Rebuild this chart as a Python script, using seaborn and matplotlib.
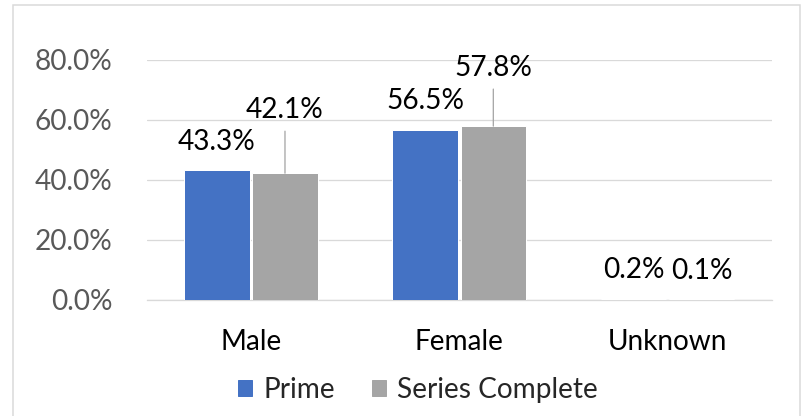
import matplotlib
matplotlib.use("Agg")
import matplotlib.pyplot as plt
from matplotlib.patches import Rectangle
from matplotlib.ticker import PercentFormatter
import seaborn as sns
import pandas as pd

categories = ["Male", "Female", "Unknown"]
series = ["Prime", "Series Complete"]
prime = [43.3, 56.5, 0.2]
series_complete = [42.1, 57.8, 0.1]
colors = ["#4472C4", "#A5A5A5"]

df = pd.DataFrame({
    "gender": categories * 2,
    "group": [series[0]] * 3 + [series[1]] * 3,
    "pct": prime + series_complete,
})

sns.set_theme(style="white")
plt.rcParams["font.family"] = ["Lato", "DejaVu Sans"]
FS = 28
GRID = "#D9D9D9"

# dpi 72 so that points == pixels
fig = plt.figure(figsize=(807 / 72, 416 / 72), dpi=72)
ax = fig.add_axes([146.7 / 807, 1 - 299.5 / 416, 625 / 807, 240 / 416])

sns.barplot(data=df, x="gender", y="pct", hue="group", order=categories,
            hue_order=series, palette=colors, width=0.655, gap=0.04,
            edgecolor="white", linewidth=1, saturation=1, ax=ax, zorder=3)

ax.set_ylim(0, 80)
ax.set_xlim(-0.5, 2.5)
ax.set_yticks([0, 20, 40, 60, 80])
ax.yaxis.set_major_formatter(PercentFormatter(decimals=1))
ax.grid(axis="y", color=GRID, lw=1.3, zorder=0)
ax.set_axisbelow(True)
for s in ["top", "right", "left"]:
    ax.spines[s].set_visible(False)
ax.spines["bottom"].set_color(GRID)
ax.spines["bottom"].set_linewidth(1.3)
ax.set_xlabel("")
ax.set_ylabel("")
ax.tick_params(axis="y", length=0, pad=34, labelsize=FS, labelcolor="#595959")
ax.tick_params(axis="x", which="major", length=0, pad=29, labelsize=FS, labelcolor="#000000")
ax.set_xticks([-0.5, 0.5, 1.5, 2.5], minor=True)
ax.tick_params(axis="x", which="minor", length=9, width=1.3, color=GRID)

# data labels (baseline offset above bar top); grey Male/Female get leader lines
offsets = {
    (0, 0): 20, (0, 1): 55.5,
    (1, 0): 21, (1, 1): 50.5,
    (2, 0): 20.5, (2, 1): 20.5,
}
leader = {(0, 1), (1, 1)}
for si, cont in enumerate(ax.containers):
    vals = [prime, series_complete][si]
    for ci, bar in enumerate(cont):
        x = bar.get_x() + bar.get_width() / 2
        y = bar.get_height()
        kw = dict(xy=(x, y), xytext=(0, offsets[(ci, si)]), textcoords="offset points",
                  ha="center", va="baseline", fontsize=FS, color="black")
        if (ci, si) in leader:
            kw["arrowprops"] = dict(arrowstyle="-", color="#A6A6A6", lw=1.3,
                                    shrinkA=6, shrinkB=0)
        ax.annotate(f"{vals[ci]:.1f}%", **kw)

ax.legend_.remove()
handles = [Rectangle((0, 0), 1, 1, color=c) for c in colors]
fig.legend(handles, series, loc="center", bbox_to_anchor=(418 / 807, 1 - 390 / 416),
           ncol=2, frameon=False, fontsize=FS, handlelength=0.5, handleheight=0.5,
           handletextpad=0.4, columnspacing=1.3, borderpad=0, borderaxespad=0)

# chart area border
fig.patches.append(Rectangle((13 / 807, -0.05), 787 / 807, 1.05 - 5 / 416,
                             transform=fig.transFigure, fill=False,
                             edgecolor=GRID, lw=1.5))

fig.savefig("out.png", dpi=72)
